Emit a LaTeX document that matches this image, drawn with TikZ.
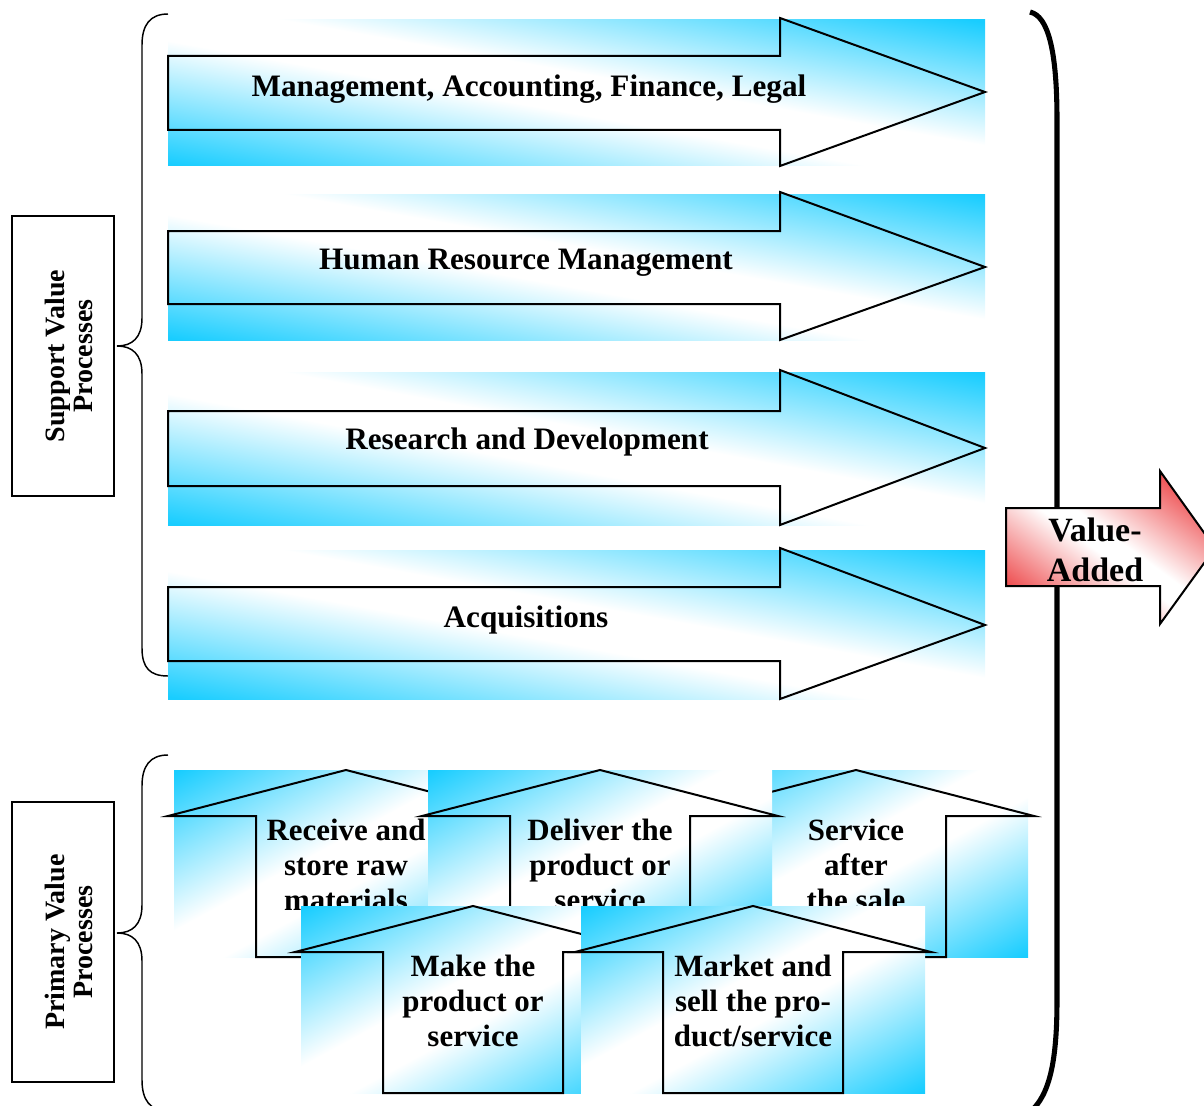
\documentclass[tikz,border=0pt]{standalone}
\usepackage{fontspec}
\setmainfont{Liberation Serif}
\definecolor{skyc}{RGB}{25,205,255}
\definecolor{redc}{RGB}{238,80,82}
\pgfdeclareverticalshading{bluediag}{100bp}{color(0bp)=(skyc); color(15bp)=(skyc); color(45bp)=(white); color(55bp)=(white); color(85bp)=(skyc); color(100bp)=(skyc)}
\pgfdeclareverticalshading{reddiag}{100bp}{color(0bp)=(redc); color(24bp)=(redc); color(47bp)=(white); color(53bp)=(white); color(76bp)=(redc); color(100bp)=(redc)}
\tikzset{
  outl/.style={draw=black, line width=1.5pt, line join=miter},
  thinl/.style={draw=black, line width=1.1pt},
  hlbl/.style={font=\fontsize{23.4}{26.5}\selectfont\bfseries, inner sep=0pt},
  ulbl/.style={font=\fontsize{23.2}{26.5}\selectfont\bfseries, inner sep=0pt, align=center},
  slbl/.style={font=\fontsize{21}{21}\selectfont\bfseries, inner sep=0pt, align=center, rotate=90},
  vlbl/.style={font=\fontsize{25.5}{30}\selectfont\bfseries, inner sep=0pt, align=center},
}
% diagonal shading filling the box (x1,y1)-(x2,y2): shading, angle, x1, y1, x2, y2
\newcommand\diagshade[6]{%
  \path[transform canvas={shift={({((#3)+(#5))/2},{((#4)+(#6))/2})}, xscale={((#5)-(#3))/100}, yscale={((#6)-(#4))/100}}, shading=#1, shading angle=#2] (-50,-50) rectangle (50,50);
}
% horizontal arrow: top, bottom, shaft top, shaft bottom, tip y
\newcommand\harr[5]{%
  \diagshade{bluediag}{-45}{168}{#1}{985}{#2}
  \draw[outl] (168,#3) -- (780,#3) -- (780,{#1-2}) -- (985,#5) -- (780,#2) -- (780,#4) -- (168,#4) -- cycle;
}
% up arrow: cx, top y, name, text
\newcommand\uarr[4]{%
  \diagshade{bluediag}{45}{#1-172}{#2}{#1+172}{#2+187}
  \draw[outl] ({#1-90},{#2+187}) -- ({#1-90},{#2+46}) -- ({#1-178},{#2+46}) -- (#1,#2) -- ({#1+178},{#2+46}) -- ({#1+90},{#2+46}) -- ({#1+90},{#2+187}) -- cycle;
  \node[ulbl] (#3) at (#1,{#2+95}) {#4};
}
\begin{document}
\begin{tikzpicture}[x=0.75pt,y=-0.75pt]
\useasboundingbox (0,0) rectangle (1204,1106);
\clip (0,0) rectangle (1204,1106);
% braces
\draw[thinl] (168,14) .. controls (150,14) and (142,25) .. (142,45) -- (142,318) .. controls (142,338) and (132,346) .. (117,346) .. controls (132,346) and (142,354) .. (142,374) -- (142,648) .. controls (142,668) and (150,676) .. (168,676);
\draw[thinl] (168,755) .. controls (150,755) and (142,766) .. (142,786) -- (142,905) .. controls (142,925) and (132,933) .. (117,933) .. controls (132,933) and (142,941) .. (142,961) -- (142,1080) .. controls (142,1100) and (150,1111) .. (168,1111);
% side labels
\draw[outl] (12,216) rectangle (114,496);
\node[slbl] (sup) at (69,356) {Support Value\\Processes};
\draw[outl] (12,802) rectangle (114,1082);
\node[slbl] (pri) at (69,942) {Primary Value\\Processes};
% support arrows
\harr{20}{166}{56}{130}{92}
\node[hlbl, anchor=base] (s1) at (529,97) {Management, Accounting, Finance, Legal};
\harr{194}{340}{231}{304}{267}
\node[hlbl, anchor=base] (s2) at (526,269.5) {Human Resource Management};
\harr{372}{525}{411}{486}{448}
\node[hlbl, anchor=base] (s3) at (527,449.5) {Research and Development};
\harr{550}{699}{587}{661}{625}
\node[hlbl, anchor=base] (s4) at (526,627.5) {Acquisitions};
% big bracket
\draw[line width=3.8pt] (1030,12) .. controls (1048,16) and (1057,50) .. (1057,120) -- (1057,1000) .. controls (1057,1060) and (1050,1095) .. (1030,1112);
% value added arrow
\begin{scope}
  \clip (1006,508) -- (1160,508) -- (1160,471) -- (1215,548) -- (1160,624) -- (1160,586) -- (1006,586) -- cycle;
  \diagshade{reddiag}{-45}{1006}{471}{1215}{624}
\end{scope}
\draw[outl] (1006,508) -- (1160,508) -- (1160,471) -- (1215,548) -- (1160,624) -- (1160,586) -- (1006,586) -- cycle;
\node[vlbl] (va) at (1095,550) {Value-\\Added};
% primary arrows
\uarr{346}{770}{p1}{Receive and\\store raw\\materials}
\uarr{856}{770}{p3}{Service\\after\\the sale}
\uarr{600}{770}{p2}{Deliver the\\product or\\service}
\uarr{473}{906}{p4}{Make the\\product or\\service}
\uarr{753}{906}{p5}{Market and\\sell the pro-\\duct/service}
\end{tikzpicture}
\end{document}
